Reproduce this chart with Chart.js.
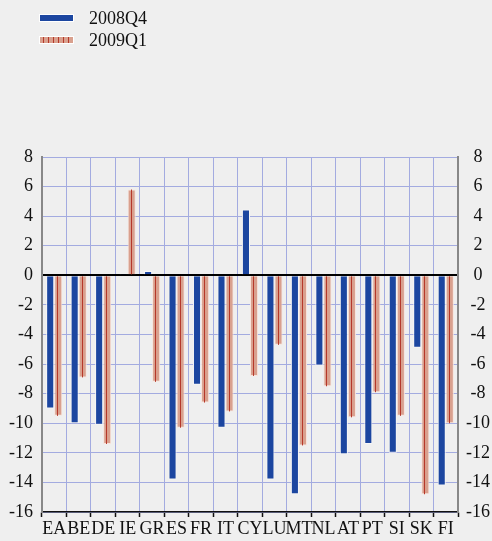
<!DOCTYPE html>
<html lang="en">
<head>
    <meta charset="UTF-8">
    <title>2008Q4 vs 2009Q1</title>
    <script src="https://cdn.jsdelivr.net/npm/chart.js"></script>
    <style>
        body {
            margin: 0;
            background-color: #efefef;
            font-family: "Liberation Serif", "Times New Roman", serif;
        }

        .wrap {
            position: relative;
            width: 492px;
            height: 541px;
        }

        .legend {
            position: absolute;
            left: 39px;
            top: 7px;
            font-size: 18px;
            color: #111;
        }

        .legend-row {
            display: flex;
            align-items: center;
            height: 22px;
        }

        .swatch {
            width: 33px;
            height: 6px;
            margin-right: 15px;
            border: 1px solid #fff;
        }

        .swatch.blue {
            background: #1c46a0;
        }

        .swatch.red {
            background: repeating-linear-gradient(90deg, #d9a08e 0px, #d9a08e 3px, #b5382a 3px, #b5382a 4px, #d9a08e 4px, #d9a08e 5px);
        }
    </style>
</head>
<body>
    <div class="wrap">
        <div class="legend">
            <div class="legend-row"><span class="swatch blue"></span>2008Q4</div>
            <div class="legend-row"><span class="swatch red"></span>2009Q1</div>
        </div>
        <canvas id="chart" width="492" height="541"></canvas>
    </div>

    <script>
        const countries = ['EA', 'BE', 'DE', 'IE', 'GR', 'ES', 'FR', 'IT', 'CY', 'LU', 'MT', 'NL', 'AT', 'PT', 'SI', 'SK', 'FI'];
        const q4_2008 = [-9.0, -10.0, -10.1, 0.1, 0.3, -13.8, -7.4, -10.3, 4.45, -13.8, -14.8, -6.1, -12.1, -11.4, -12.0, -4.9, -14.2];
        const q1_2009 = [-9.5, -6.9, -11.4, 5.8, -7.2, -10.3, -8.6, -9.2, -6.8, -4.7, -11.5, -7.5, -9.6, -7.9, -9.5, -14.8, -10.0];
        const yMin = -16;
        const yMax = 8;

        const serif = { family: '"Liberation Serif", "Times New Roman", serif', size: 18 };
        const gridBlue = '#a3abe0';

        // thin red line down the middle of each 2009Q1 bar (hatched look)
        const centreLine = {
            id: 'centreLine',
            afterDatasetsDraw(chart) {
                const ctx = chart.ctx;
                const meta = chart.getDatasetMeta(1);
                ctx.save();
                ctx.strokeStyle = '#b5382a';
                ctx.lineWidth = 1;
                meta.data.forEach(bar => {
                    const x = Math.round(bar.x) - 0.5;
                    ctx.beginPath();
                    ctx.moveTo(x, bar.base);
                    ctx.lineTo(x, bar.y);
                    ctx.stroke();
                });
                ctx.restore();
            }
        };

        const yAxis = (side, width) => ({
            position: side,
            min: yMin,
            max: yMax,
            afterFit: scale => { scale.width = width; },
            ticks: {
                stepSize: 2,
                font: serif,
                color: '#111',
                padding: side === 'left' ? 9 : 8,
                crossAlign: side === 'left' ? 'near' : 'center'
            },
            border: { color: '#888', width: 2 },
            grid: {
                display: side === 'left',
                drawTicks: false,
                color: ctx => ctx.tick && ctx.tick.value === 0 ? '#000' : gridBlue,
                lineWidth: ctx => ctx.tick && ctx.tick.value === 0 ? 2 : 1
            }
        });

        new Chart(document.getElementById('chart'), {
            type: 'bar',
            data: {
                labels: countries,
                datasets: [{
                    label: '2008Q4',
                    data: q4_2008,
                    backgroundColor: '#1c46a0',
                    borderColor: '#f6f6f6',
                    borderWidth: 1,
                    categoryPercentage: 0.66,
                    barPercentage: 1
                },
                {
                    label: '2009Q1',
                    data: q1_2009,
                    backgroundColor: '#d9a08e',
                    borderColor: '#f8e4dc',
                    borderWidth: 1,
                    categoryPercentage: 0.66,
                    barPercentage: 1
                }]
            },
            options: {
                responsive: false,
                animation: false,
                layout: {
                    padding: { top: 157, left: 0, right: 0, bottom: 0 }
                },
                plugins: {
                    legend: { display: false },
                    tooltip: { enabled: false }
                },
                scales: {
                    x: {
                        afterFit: scale => { scale.height = 29; },
                        ticks: { font: serif, color: '#111', padding: 1, maxRotation: 0, autoSkip: false },
                        border: { color: '#111', width: 1.5 },
                        grid: {
                            offset: true,
                            color: gridBlue,
                            tickColor: '#111',
                            tickLength: 5,
                            tickWidth: 1.5
                        }
                    },
                    y: yAxis('left', 42),
                    y2: yAxis('right', 34)
                }
            },
            plugins: [centreLine]
        });
    </script>
</body>
</html>
